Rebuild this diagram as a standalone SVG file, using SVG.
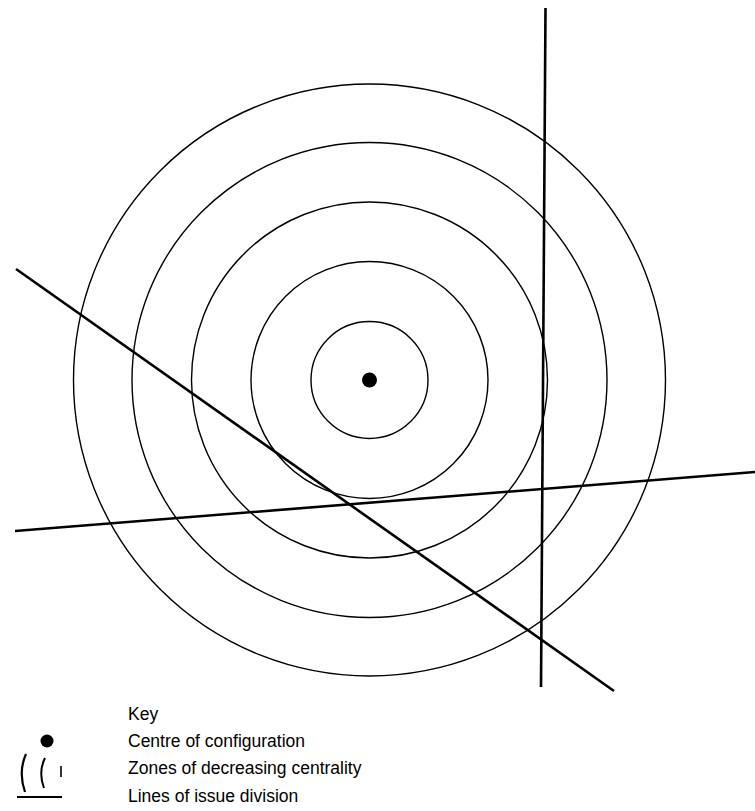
<svg xmlns="http://www.w3.org/2000/svg" width="755" height="811" viewBox="0 0 755 811">
<style>
.ring{fill:none;stroke:#000;stroke-width:1.4}
.div{fill:none;stroke:#000;stroke-width:2.6;stroke-linecap:butt}
.lbl{font-family:"Liberation Sans",Arial,sans-serif;font-size:17.5px;fill:#000}
</style>
<rect width="755" height="811" fill="#fff"/>
<g id="zones">
<circle class="ring" cx="369.5" cy="380" r="296"/>
<circle class="ring" cx="369.5" cy="380" r="237.5"/>
<circle class="ring" cx="369.5" cy="380" r="178"/>
<circle class="ring" cx="369.5" cy="380" r="118.5"/>
<circle class="ring" cx="369.5" cy="380" r="58.5"/>
</g>
<g id="centre">
<circle cx="369.5" cy="380" r="7.5" fill="#000"/>
</g>
<g id="divisions">
<line class="div" x1="545.5" y1="8" x2="541" y2="687"/>
<line class="div" x1="15" y1="531" x2="755" y2="472"/>
<line class="div" x1="16" y1="269" x2="614" y2="691"/>
</g>
<g id="key">
<text class="lbl" x="128" y="720">Key</text>
<circle cx="47" cy="741" r="6.5" fill="#000"/>
<text class="lbl" x="128" y="747">Centre of configuration</text>
<path d="M26,754 Q18,772 25,792" fill="none" stroke="#000" stroke-width="2.2"/>
<path d="M45,758 Q38,772 44,788" fill="none" stroke="#000" stroke-width="2"/>
<line x1="61" y1="766" x2="61" y2="777" stroke="#000" stroke-width="1.6"/>
<text class="lbl" x="128" y="774">Zones of decreasing centrality</text>
<line x1="17" y1="797" x2="62" y2="797" stroke="#000" stroke-width="2"/>
<text class="lbl" x="128" y="802">Lines of issue division</text>
</g>
</svg>
